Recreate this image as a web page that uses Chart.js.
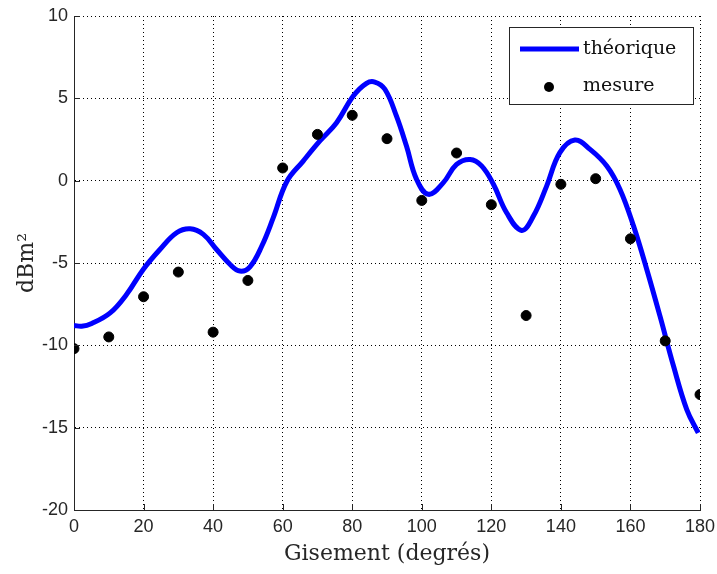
<!DOCTYPE html>
<html>
<head>
<meta charset="utf-8">
<script src="https://cdn.jsdelivr.net/npm/chart.js@4/dist/chart.umd.min.js"></script>
<style>
  body { margin: 0; background: #fff; }
  canvas { display: block; }
</style>
</head>
<body>
<canvas id="rcsChart" width="717" height="574"></canvas>
<script>
// Theoretical curve
const theoAngles = [0, 2.2, 5.1, 10.4, 15.1, 19.9, 24.7, 29.5, 33.4, 37.2, 41.0, 44.9, 47.7, 50.6, 54.0, 57.3,
    61.2, 65.9, 70.7, 75.5, 80.3, 84.1, 86.5, 89.4, 92.7, 95.6, 98.5, 101.9, 106.2, 110.0, 113.9, 117.2,
    120.6, 124.4, 128.7, 132.1, 135.9, 139.7, 144.0, 148.4, 153.2, 157.0, 160.9, 164.7, 168.5, 172.4, 176.2, 179.5];
const theoValues = [-8.79, -8.84, -8.67, -8.03, -6.91, -5.39, -4.18, -3.16, -2.92, -3.26, -4.18, -5.09, -5.49, -5.23, -3.97, -2.25,
    -0.05, 1.19, 2.41, 3.52, 5.14, 5.91, 5.99, 5.55, 3.93, 2.10, 0.08, -0.83, -0.12, 0.99, 1.29, 0.90,
    -0.22, -1.95, -3.02, -2.15, -0.33, 1.70, 2.47, 1.90, 0.89, -0.53, -2.76, -5.39, -8.23, -11.27, -13.90, -15.32];

// Measured points
const measAngles = [0, 10, 20, 30, 40, 50, 60, 70, 80, 90, 100, 110, 120, 130, 140, 150, 160, 170, 180];
const measValues = [-10.2, -9.49, -7.05, -5.55, -9.2, -6.06, 0.77, 2.81, 3.97, 2.55, -1.2, 1.68, -1.46, -8.19, -0.22, 0.12, -3.53, -9.73, -12.99];

const seriesLabels = ['théorique', 'mesure'];
const xTicks = [0, 20, 40, 60, 80, 100, 120, 140, 160, 180];
const yTicks = [-20, -15, -10, -5, 0, 5, 10];

const axisColor = '#262626';
const tickFont = { family: 'Liberation Sans', size: 18 };
const titleFont = { family: 'DejaVu Serif', size: 22 };

// MATLAB style ticks pointing into the axes
const innerTicks = {
    id: 'innerTicks',
    afterDatasetsDraw(chart) {
        const ctx = chart.ctx;
        const area = chart.chartArea;
        const xs = chart.scales.x;
        const ys = chart.scales.y;
        ctx.save();
        ctx.strokeStyle = axisColor;
        ctx.lineWidth = 1;
        ctx.beginPath();
        xTicks.forEach(v => {
            const px = Math.round(xs.getPixelForValue(v)) + 0.5;
            ctx.moveTo(px, area.bottom);
            ctx.lineTo(px, area.bottom - 6);
        });
        yTicks.forEach(v => {
            const py = Math.round(ys.getPixelForValue(v)) + 0.5;
            ctx.moveTo(area.left, py);
            ctx.lineTo(area.left + 6, py);
        });
        ctx.stroke();
        ctx.restore();
    }
};

// legend box in the top right corner of the plot
const boxLegend = {
    id: 'boxLegend',
    afterDraw(chart) {
        const ctx = chart.ctx;
        const ds = chart.data.datasets;
        const x0 = 509.5, y0 = 27.5, w = 184, h = 77;
        ctx.save();
        ctx.fillStyle = '#fff';
        ctx.fillRect(x0, y0, w, h);
        ctx.strokeStyle = axisColor;
        ctx.lineWidth = 1;
        ctx.strokeRect(x0, y0, w, h);

        ctx.strokeStyle = ds[0].borderColor;
        ctx.lineWidth = ds[0].borderWidth;
        ctx.beginPath();
        ctx.moveTo(520, 49);
        ctx.lineTo(579, 49);
        ctx.stroke();

        ctx.fillStyle = ds[1].backgroundColor;
        ctx.beginPath();
        ctx.arc(549, 87, ds[1].pointRadius, 0, Math.PI * 2);
        ctx.fill();

        ctx.fillStyle = '#111';
        ctx.font = '19px "DejaVu Serif"';
        ctx.textBaseline = 'middle';
        ctx.fillText(ds[0].label, 583, 49);
        ctx.fillText(ds[1].label, 583, 86);
        ctx.restore();
    }
};

const ctx = document.getElementById('rcsChart').getContext('2d');
const chart = new Chart(ctx, {
    type: 'scatter',
    data: {
        datasets: [
            {
                label: seriesLabels[0],
                data: theoAngles.map((a, i) => ({ x: a, y: theoValues[i] })),
                showLine: true,
                borderColor: '#0000ff',
                borderWidth: 5,
                pointRadius: 0,
                tension: 0.4,
                order: 2
            },
            {
                label: seriesLabels[1],
                data: measAngles.map((a, i) => ({ x: a, y: measValues[i] })),
                showLine: false,
                backgroundColor: '#000',
                borderColor: '#000',
                pointRadius: 5,
                pointStyle: 'circle',
                order: 1
            }
        ]
    },
    options: {
        responsive: false,
        animation: false,
        layout: { padding: { top: 16, right: 17, left: 0, bottom: 0 } },
        plugins: {
            legend: { display: false },
            tooltip: { enabled: false }
        },
        scales: {
            x: {
                type: 'linear',
                min: 0,
                max: 180,
                afterFit: scale => {
                    scale.height = 64;
                    scale.paddingLeft = 0;
                    scale.paddingRight = 0;
                },
                afterBuildTicks: scale => { scale.ticks = xTicks.map(v => ({ value: v })); },
                ticks: { font: tickFont, color: axisColor, padding: 6, maxRotation: 0 },
                grid: { color: '#000', lineWidth: 1, drawTicks: false, tickLength: 0 },
                border: { display: true, color: axisColor, width: 1, dash: [1, 3] },
                title: { display: true, text: 'Gisement (degrés)', font: titleFont, color: axisColor, padding: { top: 6, bottom: 7 } }
            },
            y: {
                type: 'linear',
                min: -20,
                max: 10,
                afterFit: scale => {
                    scale.width = 74;
                    scale.paddingTop = 0;
                    scale.paddingBottom = 0;
                },
                afterBuildTicks: scale => { scale.ticks = yTicks.map(v => ({ value: v })); },
                ticks: { font: tickFont, color: axisColor, padding: 6 },
                grid: { color: '#000', lineWidth: 1, drawTicks: false, tickLength: 0 },
                border: { display: true, color: axisColor, width: 1, dash: [1, 3] },
                title: { display: true, text: 'dBm²', font: titleFont, color: axisColor, padding: { top: 14, bottom: 14 } }
            }
        }
    },
    plugins: [innerTicks, boxLegend]
});
</script>
</body>
</html>
